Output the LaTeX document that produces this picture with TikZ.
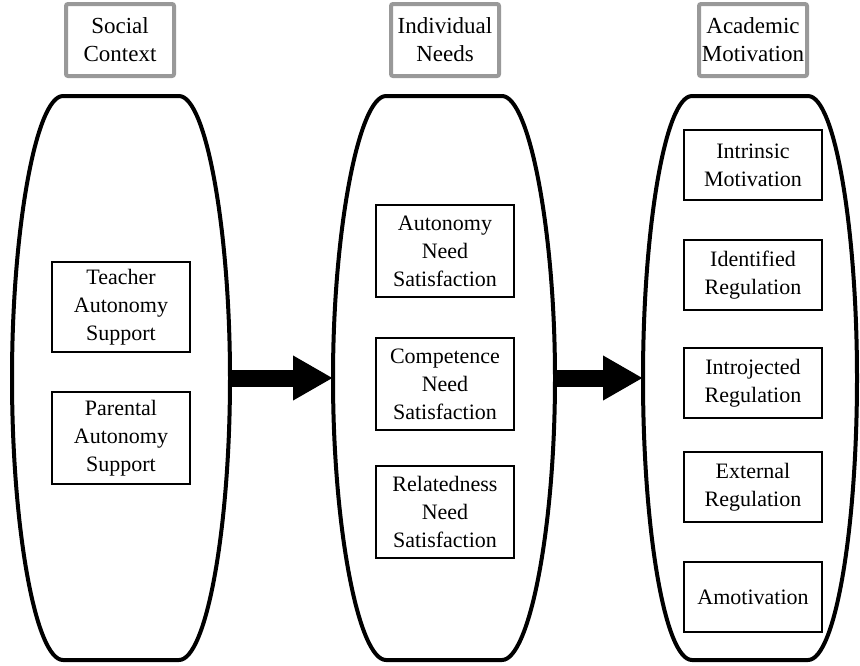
\documentclass[tikz,border=0pt]{standalone}
\usepackage{fontspec}
\setmainfont{Liberation Serif}
\usetikzlibrary{arrows.meta}

\begin{document}
\begin{tikzpicture}[x=1pt,y=1pt]
\tikzset{every node/.style={font=\fontsize{22}{28}\selectfont, align=center, inner sep=0pt}}
\tikzset{header/.style={draw=black!40, line width=4pt, rounded corners=2pt, minimum width=108pt, minimum height=72pt, font=\fontsize{23}{28}\selectfont}}
\tikzset{item/.style={draw, line width=1.6pt, minimum width=138pt}}
\tikzset{bigarrow/.style={line width=17pt, -{Triangle[length=40pt,width=42pt]}}}
\useasboundingbox (0,0) rectangle (860,-665);
% headers
\node [header] (socialhead) at (120,-40) {Social\\Context};
\node [header] (needshead) at (445,-40) {Individual\\Needs};
\node [header] (motivhead) at (753,-40) {Academic\\Motivation};
% barrels
\foreach \cx/\w/\n in {121/109/social, 444/111/needs, 750/107/motiv} {
  \draw [line width=4pt] (\cx-58,-96) -- (\cx+58,-96)
    .. controls (\cx+85,-96) and (\cx+\w,-230) .. (\cx+\w,-378)
    .. controls (\cx+\w,-530) and (\cx+85,-660) .. (\cx+58,-660)
    -- (\cx-58,-660)
    .. controls (\cx-85,-660) and (\cx-\w,-530) .. (\cx-\w,-378)
    .. controls (\cx-\w,-230) and (\cx-85,-96) .. cycle;
  \coordinate (\n-w) at (\cx-\w,-378);
  \coordinate (\n-e) at (\cx+\w,-378);
}
% social context
\node [item, minimum height=90pt] (teacher) at (121,-307) {Teacher\\Autonomy\\Support};
\node [item, minimum height=92pt] (parent) at (121,-438) {Parental\\Autonomy\\Support};
% individual needs
\node [item, minimum height=92pt] (autonomy) at (445,-251) {Autonomy\\Need\\Satisfaction};
\node [item, minimum height=92pt] (competence) at (445,-384) {Competence\\Need\\Satisfaction};
\node [item, minimum height=92pt] (relatedness) at (445,-512) {Relatedness\\Need\\Satisfaction};
% academic motivation
\node [item, minimum height=70pt] (intrinsic) at (753,-165) {Intrinsic\\Motivation};
\node [item, minimum height=70pt] (identified) at (753,-275) {Identified\\Regulation};
\node [item, minimum height=70pt] (introjected) at (753,-383) {Introjected\\Regulation};
\node [item, minimum height=70pt] (external) at (753,-487) {External\\Regulation};
\node [item, minimum height=70pt] (amotiv) at (753,-597) {Amotivation};
% arrows
\draw [bigarrow] (social-e) -- (needs-w);
\draw [bigarrow] (needs-e) -- (motiv-w);
\end{tikzpicture}
\end{document}
